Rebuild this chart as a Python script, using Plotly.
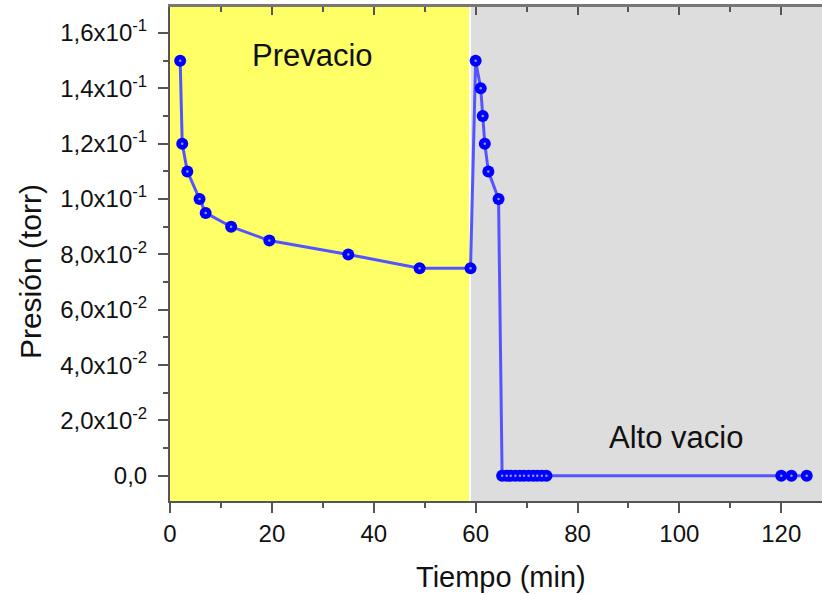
import plotly.graph_objects as go

# Pump-down record: time (min) and chamber pressure (torr)
tiempo_min = [2, 2.4, 3.4, 5.8, 7, 12, 19.5, 35, 49, 59,
              60, 61, 61.4, 61.8, 62.5, 64.5,
              65.2, 66.1, 66.9, 67.8, 68.7, 69.5, 70.4, 71.3, 72.1, 73.0, 73.9,
              120, 122, 125]
presion_torr = [0.15, 0.12, 0.11, 0.10, 0.095, 0.09, 0.085, 0.08, 0.075, 0.075,
                0.15, 0.14, 0.13, 0.12, 0.11, 0.10,
                0, 0, 0, 0, 0, 0, 0, 0, 0, 0, 0,
                0, 0, 0]

# Stage boundaries (min)
fase_prevacio = (0, 58.7)
fase_alto_vacio = (59.1, 130)

y_tickvals = [0, 0.02, 0.04, 0.06, 0.08, 0.10, 0.12, 0.14, 0.16]
y_ticktext = ["0,0", "2,0x10<sup>-2</sup>", "4,0x10<sup>-2</sup>", "6,0x10<sup>-2</sup>",
              "8,0x10<sup>-2</sup>", "1,0x10<sup>-1</sup>", "1,2x10<sup>-1</sup>",
              "1,4x10<sup>-1</sup>", "1,6x10<sup>-1</sup>"]
x_tickvals = [0, 20, 40, 60, 80, 100, 120]

FONT = "Liberation Sans, Arial, sans-serif"
AXIS_COLOR = "#555555"

fig = go.Figure()

fig.add_trace(go.Scatter(
    x=tiempo_min, y=presion_torr, mode="lines+markers",
    line=dict(color="rgb(85,85,255)", width=3),
    marker=dict(size=12, color="#0000ff", line=dict(width=0)),
    showlegend=False, hoverinfo="x+y",
))
# small glossy highlight on each marker
fig.add_trace(go.Scatter(
    x=tiempo_min, y=presion_torr, mode="markers",
    marker=dict(size=2.5, color="rgb(150,150,255)"),
    showlegend=False, hoverinfo="skip",
))

fig.add_shape(type="rect", xref="x", yref="paper",
              x0=fase_prevacio[0], x1=fase_prevacio[1], y0=0, y1=1,
              fillcolor="rgb(255,255,102)", line=dict(width=0), layer="below")
fig.add_shape(type="rect", xref="x", yref="paper",
              x0=fase_alto_vacio[0], x1=fase_alto_vacio[1], y0=0, y1=1,
              fillcolor="rgb(221,221,221)", line=dict(width=0), layer="below")

fig.add_annotation(x=28, y=0.152, text="Prevacio", showarrow=False,
                   font=dict(family=FONT, size=31, color="#111111"),
                   xanchor="center", yanchor="middle")
fig.add_annotation(x=99.4, y=0.0137, text="Alto vacio", showarrow=False,
                   font=dict(family=FONT, size=31, color="#111111"),
                   xanchor="center", yanchor="middle")

# axis titles
fig.add_annotation(xref="paper", yref="paper", x=0.5077, y=-0.153,
                   text="Tiempo (min)", showarrow=False,
                   font=dict(family=FONT, size=29, color="#111111"),
                   xanchor="center", yanchor="middle")
fig.add_annotation(xref="paper", yref="paper", x=-0.213, y=0.4636,
                   text="Presión (torr)", showarrow=False, textangle=-90,
                   font=dict(family=FONT, size=30, color="#111111"),
                   xanchor="center", yanchor="middle")

fig.update_layout(
    width=822, height=594,
    margin=dict(l=170, r=0, t=7, b=93),
    paper_bgcolor="white", plot_bgcolor="white",
    font=dict(family=FONT, size=24, color="#111111"),
    xaxis=dict(
        range=[0, 128], tickmode="array", tickvals=x_tickvals,
        ticks="outside", ticklen=10, tickwidth=2, tickcolor=AXIS_COLOR,
        showline=True, linecolor=AXIS_COLOR, linewidth=2,
        showgrid=False, zeroline=False,
        tickfont=dict(family=FONT, size=24, color="#111111"),
        minor=dict(tickvals=[10, 30, 50, 70, 90, 110], ticks="outside",
                   ticklen=5, tickwidth=2, tickcolor=AXIS_COLOR),
    ),
    xaxis2=dict(
        overlaying="x", matches="x", side="top",
        tickmode="array", tickvals=x_tickvals, showticklabels=False,
        ticks="inside", ticklen=8, tickwidth=2, tickcolor=AXIS_COLOR,
        showline=True, linecolor="#777777", linewidth=2.5,
        showgrid=False, zeroline=False,
        minor=dict(tickvals=[10, 30, 50, 70, 90, 110], ticks="inside",
                   ticklen=5, tickwidth=2, tickcolor=AXIS_COLOR),
    ),
    yaxis=dict(
        range=[-0.0091, 0.1694], tickmode="array",
        tickvals=y_tickvals, ticktext=y_ticktext,
        ticks="outside", ticklen=10, tickwidth=2, tickcolor=AXIS_COLOR,
        showline=True, linecolor=AXIS_COLOR, linewidth=2,
        showgrid=False, zeroline=False, ticklabelstandoff=6,
        tickfont=dict(family=FONT, size=24, color="#111111"),
        minor=dict(tickvals=[0.01, 0.03, 0.05, 0.07, 0.09, 0.11, 0.13, 0.15],
                   ticks="outside", ticklen=5, tickwidth=2, tickcolor=AXIS_COLOR),
    ),
)

# empty trace to activate the top axis
fig.add_trace(go.Scatter(x=[None], y=[None], xaxis="x2", showlegend=False,
                         hoverinfo="skip"))

fig.write_html("out.html")
